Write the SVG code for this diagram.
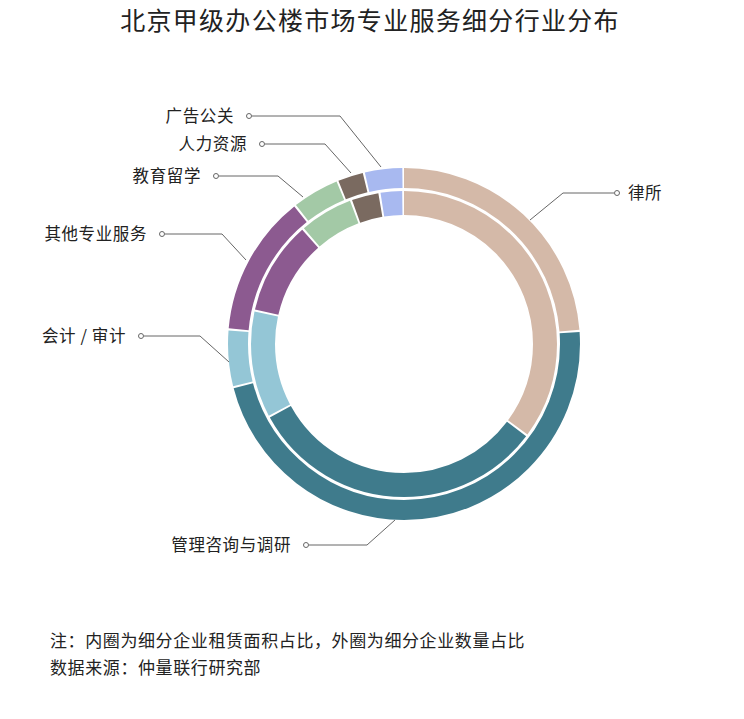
<svg xmlns="http://www.w3.org/2000/svg" width="744" height="719" viewBox="0 0 744 719">
<style>
text{font-family:"Noto Sans CJK SC","Noto Sans",sans-serif;fill:#222}
.lb{font-size:16.5px;letter-spacing:0.6px}
.nt{font-size:17px;letter-spacing:0.6px}
.o{fill:none;stroke-width:20}
.i{fill:none;stroke-width:24}
.ld{fill:none;stroke:#666;stroke-width:1}
.dot{fill:#fff;stroke:#666;stroke-width:1}
</style>
<rect width="744" height="719" fill="#fff"/>
<text x="370" y="30" text-anchor="middle" font-size="25" letter-spacing="1.3">北京甲级办公楼市场专业服务细分行业分布</text>
<g id="rings" transform="rotate(-90 404 344)">
<g id="outer">
<circle class="o" cx="404" cy="344" r="166" stroke="#d4b9a8" stroke-dasharray="247.2 1043" stroke-dashoffset="0"/>
<circle class="o" cx="404" cy="344" r="166" stroke="#3f7b8c" stroke-dasharray="490.5 1043" stroke-dashoffset="-249.2"/>
<circle class="o" cx="404" cy="344" r="166" stroke="#94c6d6" stroke-dasharray="53 1043" stroke-dashoffset="-741.7"/>
<circle class="o" cx="404" cy="344" r="166" stroke="#8c5a90" stroke-dasharray="134.2 1043" stroke-dashoffset="-796.7"/>
<circle class="o" cx="404" cy="344" r="166" stroke="#a3c9a6" stroke-dasharray="44.4 1043" stroke-dashoffset="-932.9"/>
<circle class="o" cx="404" cy="344" r="166" stroke="#7a6a60" stroke-dasharray="24.1 1043" stroke-dashoffset="-979.2"/>
<circle class="o" cx="404" cy="344" r="166" stroke="#a8b9f0" stroke-dasharray="35.7 1043" stroke-dashoffset="-1005.3"/>
</g>
<g id="inner">
<circle class="i" cx="404" cy="344" r="141" stroke="#d4b9a8" stroke-dasharray="310.5 886" stroke-dashoffset="0"/>
<circle class="i" cx="404" cy="344" r="141" stroke="#3f7b8c" stroke-dasharray="281 886" stroke-dashoffset="-312.5"/>
<circle class="i" cx="404" cy="344" r="141" stroke="#94c6d6" stroke-dasharray="98.9 886" stroke-dashoffset="-595.5"/>
<circle class="i" cx="404" cy="344" r="141" stroke="#8c5a90" stroke-dasharray="86.6 886" stroke-dashoffset="-696.4"/>
<circle class="i" cx="404" cy="344" r="141" stroke="#a3c9a6" stroke-dasharray="49.7 886" stroke-dashoffset="-785"/>
<circle class="i" cx="404" cy="344" r="141" stroke="#7a6a60" stroke-dasharray="25.1 886" stroke-dashoffset="-836.7"/>
<circle class="i" cx="404" cy="344" r="141" stroke="#a8b9f0" stroke-dasharray="20.1 886" stroke-dashoffset="-863.8"/>
</g>
</g>
<g id="connectors">
<polyline class="ld" points="252,116 340,116 381,167"/>
<polyline class="ld" points="265,144 325,144 351,173"/>
<polyline class="ld" points="219,176 278,176 303,197"/>
<polyline class="ld" points="165,234 222,234 246,260"/>
<polyline class="ld" points="144,336 200,336 229,362"/>
<polyline class="ld" points="309,545 367,545 395,520"/>
<polyline class="ld" points="614,193 563,193 530,220"/>
<circle class="dot" cx="249" cy="116" r="2.5"/>
<circle class="dot" cx="262" cy="144" r="2.5"/>
<circle class="dot" cx="216" cy="176" r="2.5"/>
<circle class="dot" cx="162" cy="234" r="2.5"/>
<circle class="dot" cx="141" cy="336" r="2.5"/>
<circle class="dot" cx="306" cy="545" r="2.5"/>
<circle class="dot" cx="617" cy="193" r="2.5"/>
</g>
<g id="labels">
<text class="lb" x="234" y="122" text-anchor="end">广告公关</text>
<text class="lb" x="247" y="150" text-anchor="end">人力资源</text>
<text class="lb" x="201" y="182" text-anchor="end">教育留学</text>
<text class="lb" x="147" y="240" text-anchor="end">其他专业服务</text>
<text class="lb" x="126" y="342" text-anchor="end">会计 / 审计</text>
<text class="lb" x="291" y="551" text-anchor="end">管理咨询与调研</text>
<text class="lb" x="628" y="199">律所</text>
</g>
<text class="nt" x="50" y="647">注：内圈为细分企业租赁面积占比，外圈为细分企业数量占比</text>
<text class="nt" x="50" y="674">数据来源：仲量联行研究部</text>
</svg>
